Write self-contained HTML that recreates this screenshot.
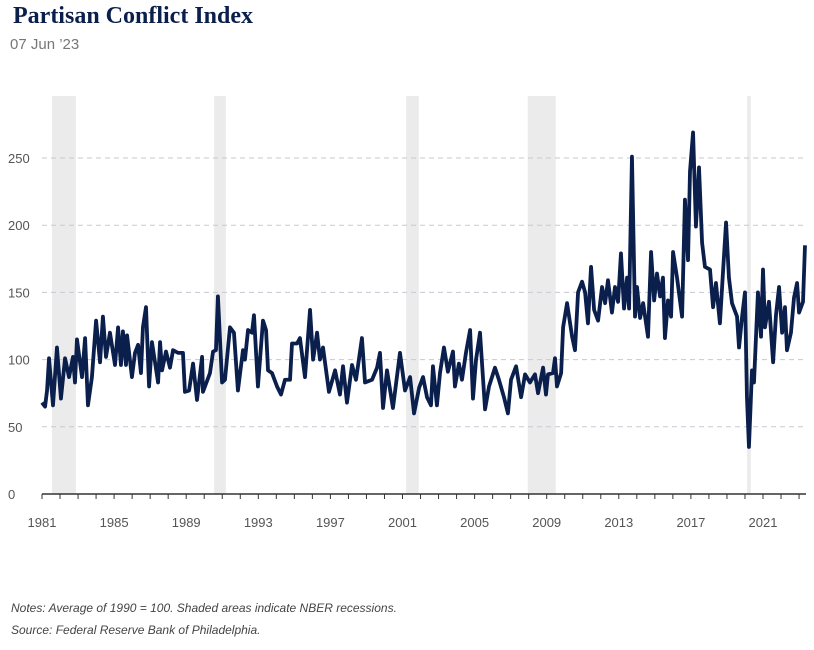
<!DOCTYPE html>
<html><head><meta charset="utf-8">
<style>
body{margin:0;background:#fff;width:814px;height:650px;overflow:hidden;font-family:"Liberation Sans",sans-serif}
.title{position:absolute;left:13px;top:3px;font-family:"Liberation Serif",serif;font-weight:bold;font-size:24px;color:#0b1f4d}
.date{position:absolute;left:10px;top:36px;font-size:15px;color:#777}
.note{position:absolute;left:11px;font-size:12px;font-style:italic;color:#444}
</style></head><body>
<div class="title">Partisan Conflict Index</div>
<div class="date">07 Jun ’23</div>
<svg id="chart" width="814" height="650" style="position:absolute;left:0;top:0"></svg>
<div class="note" style="top:601px">Notes: Average of 1990 = 100. Shaded areas indicate NBER recessions.</div>
<div class="note" style="top:623px">Source: Federal Reserve Bank of Philadelphia.</div>
<script>
const dates=[1981.00,1981.17,1981.28,1981.39,1981.61,1981.83,1982.05,1982.28,1982.50,1982.72,1982.83,1982.94,1983.22,1983.39,1983.55,1983.77,1984.00,1984.22,1984.38,1984.55,1984.77,1985.05,1985.22,1985.38,1985.49,1985.66,1985.72,1985.99,1986.16,1986.33,1986.49,1986.60,1986.77,1986.94,1987.10,1987.44,1987.55,1987.66,1987.88,1988.10,1988.27,1988.55,1988.82,1988.93,1989.16,1989.38,1989.60,1989.88,1989.93,1990.32,1990.49,1990.65,1990.76,1990.99,1991.15,1991.43,1991.65,1991.87,1992.15,1992.26,1992.43,1992.65,1992.76,1992.98,1993.26,1993.43,1993.54,1993.76,1994.04,1994.26,1994.48,1994.76,1994.87,1995.15,1995.31,1995.59,1995.87,1996.04,1996.26,1996.42,1996.59,1996.92,1997.26,1997.53,1997.70,1997.92,1998.20,1998.42,1998.75,1998.92,1999.31,1999.59,1999.75,1999.92,2000.14,2000.47,2000.86,2001.14,2001.42,2001.64,2001.92,2002.14,2002.36,2002.58,2002.69,2002.91,2003.08,2003.30,2003.52,2003.80,2003.91,2004.13,2004.30,2004.52,2004.75,2004.91,2005.08,2005.30,2005.58,2005.80,2006.13,2006.35,2006.63,2006.85,2007.02,2007.30,2007.58,2007.80,2008.07,2008.35,2008.52,2008.80,2008.96,2009.07,2009.35,2009.46,2009.57,2009.80,2009.91,2010.13,2010.41,2010.57,2010.74,2010.96,2011.13,2011.29,2011.46,2011.63,2011.85,2012.07,2012.24,2012.40,2012.62,2012.79,2012.96,2013.12,2013.29,2013.46,2013.57,2013.73,2013.90,2014.01,2014.18,2014.35,2014.62,2014.79,2014.96,2015.12,2015.29,2015.45,2015.56,2015.73,2015.90,2016.01,2016.23,2016.51,2016.67,2016.84,2016.95,2017.12,2017.28,2017.45,2017.62,2017.78,2018.06,2018.23,2018.39,2018.61,2018.78,2018.95,2019.11,2019.28,2019.56,2019.67,2019.84,2020.00,2020.11,2020.22,2020.39,2020.50,2020.72,2020.89,2021.00,2021.11,2021.33,2021.56,2021.72,2021.89,2022.06,2022.22,2022.33,2022.55,2022.72,2022.89,2023.00,2023.22,2023.33];
const values=[68,65,77,101,66,109,71,101,87,102,83,115,87,116,66,87,129,98,132,102,120,96,124,96,121,96,118,87,105,111,90,124,139,80,113,83,113,92,106,94,107,105,105,76,77,97,70,102,76,90,106,107,147,83,85,124,120,77,107,100,122,120,133,80,129,122,92,90,80,74,85,85,112,112,116,87,137,100,120,100,109,76,92,74,95,68,96,85,116,83,85,94,105,64,92,64,105,77,87,60,79,87,72,66,95,66,90,109,91,106,80,97,85,105,122,71,100,120,63,80,94,85,72,60,85,95,72,89,83,89,75,94,74,89,90,101,80,90,124,142,117,107,150,158,150,127,169,137,129,154,142,159,135,154,143,179,138,161,138,251,132,154,131,142,117,180,144,164,147,161,116,144,132,180,161,132,219,174,240,269,199,243,187,169,167,139,157,127,165,202,161,142,132,109,132,150,72,35,92,83,150,117,167,124,143,98,133,154,120,139,107,120,146,157,135,143,185];
const yTicks=[0,50,100,150,200,250];
const xTicks=[1981,1985,1989,1993,1997,2001,2005,2009,2013,2017,2021];
const recStart=[1981.55,1990.55,2001.2,2007.95,2020.12];
const recEnd=[1982.88,1991.2,2001.9,2009.5,2020.32];
const x=y=>42+(y-1981)*18.025;
const yv=v=>494-v*1.344;
const svg=document.getElementById('chart');const NS='http://www.w3.org/2000/svg';
function mk(t,a){const e=document.createElementNS(NS,t);for(const k in a)e.setAttribute(k,a[k]);svg.appendChild(e);return e;}
recStart.forEach((s,i)=>{const r=mk('rect',{x:x(s),y:96,width:x(recEnd[i])-x(s),height:398,fill:'#ebebeb'});

});
yTicks.forEach(t=>{
if(t>0){const l=mk('line',{x1:42,x2:806,y1:yv(t),y2:yv(t),stroke:'#c5cad3','stroke-dasharray':'5,4','stroke-width':1});

}
const tx=mk('text',{x:8,y:yv(t)+5,'font-size':13,fill:'#555','font-family':'Liberation Sans, sans-serif'});tx.textContent=t;

});
const ax=mk('line',{x1:42,x2:806,y1:494,y2:494,stroke:'#333','stroke-width':1.5});


for(let yr=1981;yr<=2023;yr++){const t=mk('line',{x1:x(yr),x2:x(yr),y1:494,y2:499,stroke:'#333','stroke-width':1});

}
xTicks.forEach(t=>{const tx=mk('text',{x:x(t),y:527,'font-size':13,fill:'#555','text-anchor':'middle','font-family':'Liberation Sans, sans-serif'});tx.textContent=t;

});
const p=mk('polyline',{points:dates.map((d,i)=>x(d)+','+yv(values[i])).join(' '),fill:'none',stroke:'#0b1f4d','stroke-width':3.8,'stroke-linejoin':'round'});


</script>
</body></html>
